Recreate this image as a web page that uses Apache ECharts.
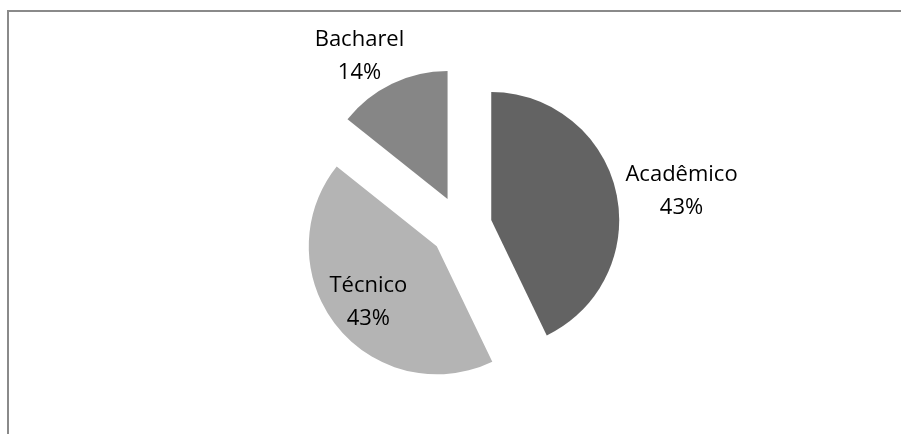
<!DOCTYPE html>
<html>
<head>
<meta charset="utf-8">
<script src="https://cdn.jsdelivr.net/npm/echarts@6/dist/echarts.min.js"></script>
<style>
    html, body {margin: 0; padding: 0; background: #fff;}
    #chart {width: 901px; height: 434px;}
</style>
</head>
<body>
<div id="chart"></div>
<script>
const categories = ['Acadêmico', 'Técnico', 'Bacharel'];
const counts = [3, 3, 1];

const chart = echarts.init(document.getElementById('chart'), null, {renderer: 'canvas'});

// label nudges from the default inside spot (Excel "best fit" look)
const labelShift = [[125, -14], [-16, 14], [-59, -82]];
const sliceColors = ['#636363', '#b4b4b4', '#868686'];

chart.setOption({
    animation: false,
    graphic: [{
        type: 'rect',
        silent: true,
        shape: {x: 8, y: 11, width: 1200, height: 1000},
        style: {fill: 'none', stroke: '#8a8a8a', lineWidth: 2},
    }],
    series: [{
        type: 'pie',
        center: [461, 227],
        radius: 128,
        startAngle: 90,
        clockwise: true,
        selectedMode: 'multiple',
        selectedOffset: 31,
        avoidLabelOverlap: false,
        silent: true,
        itemStyle: {borderWidth: 0, borderRadius: 0},
        emphasis: {disabled: true, scale: false},
        label: {
            show: true,
            position: 'inside',
            color: '#000',
            fontFamily: '"Open Sans", sans-serif',
            fontSize: 22,
            lineHeight: 33,
            align: 'center',
            formatter: p => `${p.name}\n${Math.round(p.percent)}%`,
        },
        labelLine: {show: false},
        labelLayout: params => {
            const shift = labelShift[params.dataIndex];
            return {dx: shift[0], dy: shift[1]};
        },
        data: categories.map((name, i) => ({
            name,
            value: counts[i],
            selected: true,
            itemStyle: {color: sliceColors[i]},
        })),
    }],
});
</script>
</body>
</html>
